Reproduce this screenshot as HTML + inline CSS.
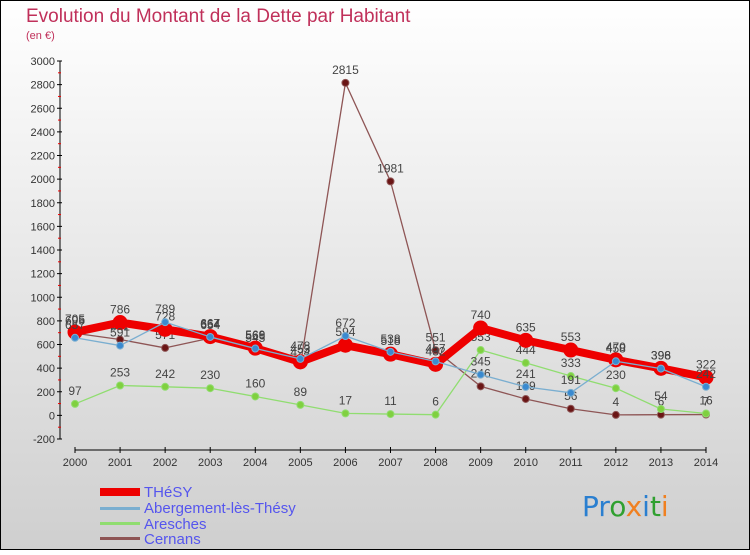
<!DOCTYPE html>
<html><head><meta charset="utf-8"><style>
html,body{margin:0;padding:0}
body{width:750px;height:550px;overflow:hidden;font-family:"Liberation Sans",sans-serif}
</style></head><body>
<svg id="chart" width="750" height="550" xmlns="http://www.w3.org/2000/svg">
<defs><linearGradient id="bg" x1="0" y1="0" x2="0" y2="1"><stop offset="0" stop-color="#ffffff"/><stop offset="1" stop-color="#cfcfcf"/></linearGradient></defs>
<rect x="0.5" y="0.5" width="749" height="549" fill="url(#bg)" stroke="#000"/>
<text x="26" y="22" font-size="19" fill="#c0305a">Evolution du Montant de la Dette par Habitant</text>
<text x="26" y="39" font-size="11" fill="#c0305a">(en €)</text>
<g id="axes"></g><g id="series"></g>
<g font-size="15" fill="#5555ee">
<rect x="100" y="488" width="40" height="8" fill="#ee0000"/>
<text x="144" y="497">THéSY</text>
<rect x="100" y="507" width="40" height="3" fill="#7aaed0"/>
<text x="144" y="513">Abergement-lès-Thésy</text>
<rect x="100" y="522" width="40" height="3" fill="#90dd70"/>
<text x="144" y="529">Aresches</text>
<rect x="100" y="537" width="40" height="3" fill="#8e5555"/>
<text x="144" y="544">Cernans</text>
</g>
<g font-size="28" font-family="'DejaVu Sans',sans-serif">
<text x="582" y="516"><tspan fill="#2a7fd0">Pr</tspan><tspan fill="#30a030">o</tspan><tspan fill="#f08020">x</tspan><tspan fill="#2a7fd0">i</tspan><tspan fill="#30a030">t</tspan><tspan fill="#f08020">i</tspan></text>
</g>
</svg>
<script>
const years=[2000,2001,2002,2003,2004,2005,2006,2007,2008,2009,2010,2011,2012,2013,2014];
const yTicks=[-200,0,200,400,600,800,1000,1200,1400,1600,1800,2000,2200,2400,2600,2800,3000];
const thesy=[705,786,728,667,569,453,594,518,432,740,635,553,470,398,322];
const abergement=[657,591,789,664,566,478,672,538,457,345,241,191,458,396,242];
const aresches=[97,253,242,230,160,89,17,11,6,553,444,333,230,54,16];
const cernans=[695,642,571,654,545,424,2815,1981,551,246,139,56,4,6,7];
const NS="http://www.w3.org/2000/svg";
const x0=75,x1=706,yTop=61,yBot=439,vMin=-200,vMax=3000;
function xs(i){return x0+(x1-x0)*i/(years.length-1);}
function ys(v){return yBot-(v-vMin)/(vMax-vMin)*(yBot-yTop);}
function mk(tag,attrs,parent){const e=document.createElementNS(NS,tag);for(const k in attrs)e.setAttribute(k,attrs[k]);parent.appendChild(e);return e;}
const axes=document.getElementById('axes');
let ya=mk('line',{x1:60,y1:ys(3000),x2:60,y2:ys(-200),stroke:'#000'},axes);


yTicks.forEach(v=>{
 const y=ys(v);
 mk('line',{x1:57,y1:y,x2:62,y2:y,stroke:'#000'},axes);
 if(v<vMax) mk('line',{x1:58,y1:ys(v+100),x2:61,y2:ys(v+100),stroke:'#e00'},axes);
 const t=mk('text',{x:55,y:y+4,'font-size':11,'text-anchor':'end',fill:'#333'},axes);
 
 
 t.textContent=v;
});
let xa=mk('line',{x1:x0,y1:450,x2:x1,y2:450,stroke:'#000'},axes);


years.forEach((yr,i)=>{
 mk('line',{x1:xs(i),y1:447,x2:xs(i),y2:453,stroke:'#000'},axes);
 const t=mk('text',{x:xs(i),y:466,'font-size':11,'text-anchor':'middle',fill:'#333'},axes);
 
 
 t.textContent=yr;
});
const g=document.getElementById('series');
function draw(name,vals,color,lw,r,dot){
 const grp=mk('g',{},g);
 
 
 const pts=vals.map((v,i)=>xs(i)+','+ys(v)).join(' ');
 mk('polyline',{points:pts,fill:'none',stroke:color,'stroke-width':lw,'stroke-linejoin':'round'},grp);
 vals.forEach((v,i)=>{
  const c=mk('circle',{cx:xs(i),cy:ys(v),r:r,fill:dot,stroke:color,'stroke-width':1},grp);
  
  
  const t=mk('text',{x:xs(i),y:ys(v)-9,'font-size':12,'text-anchor':'middle',fill:'#444'},grp);
  
  
  t.textContent=v;
 });
}
draw('cernans',cernans,'#8e5555',1.3,3.5,'#6a1515');
draw('aresches',aresches,'#90dd70',1.3,3.5,'#80d040');
draw('thesy',thesy,'#ee0000',8,7,'#ee0000');
draw('abergement',abergement,'#7aaed0',1.3,3.5,'#3a8ad0');
</script>
</body></html>
